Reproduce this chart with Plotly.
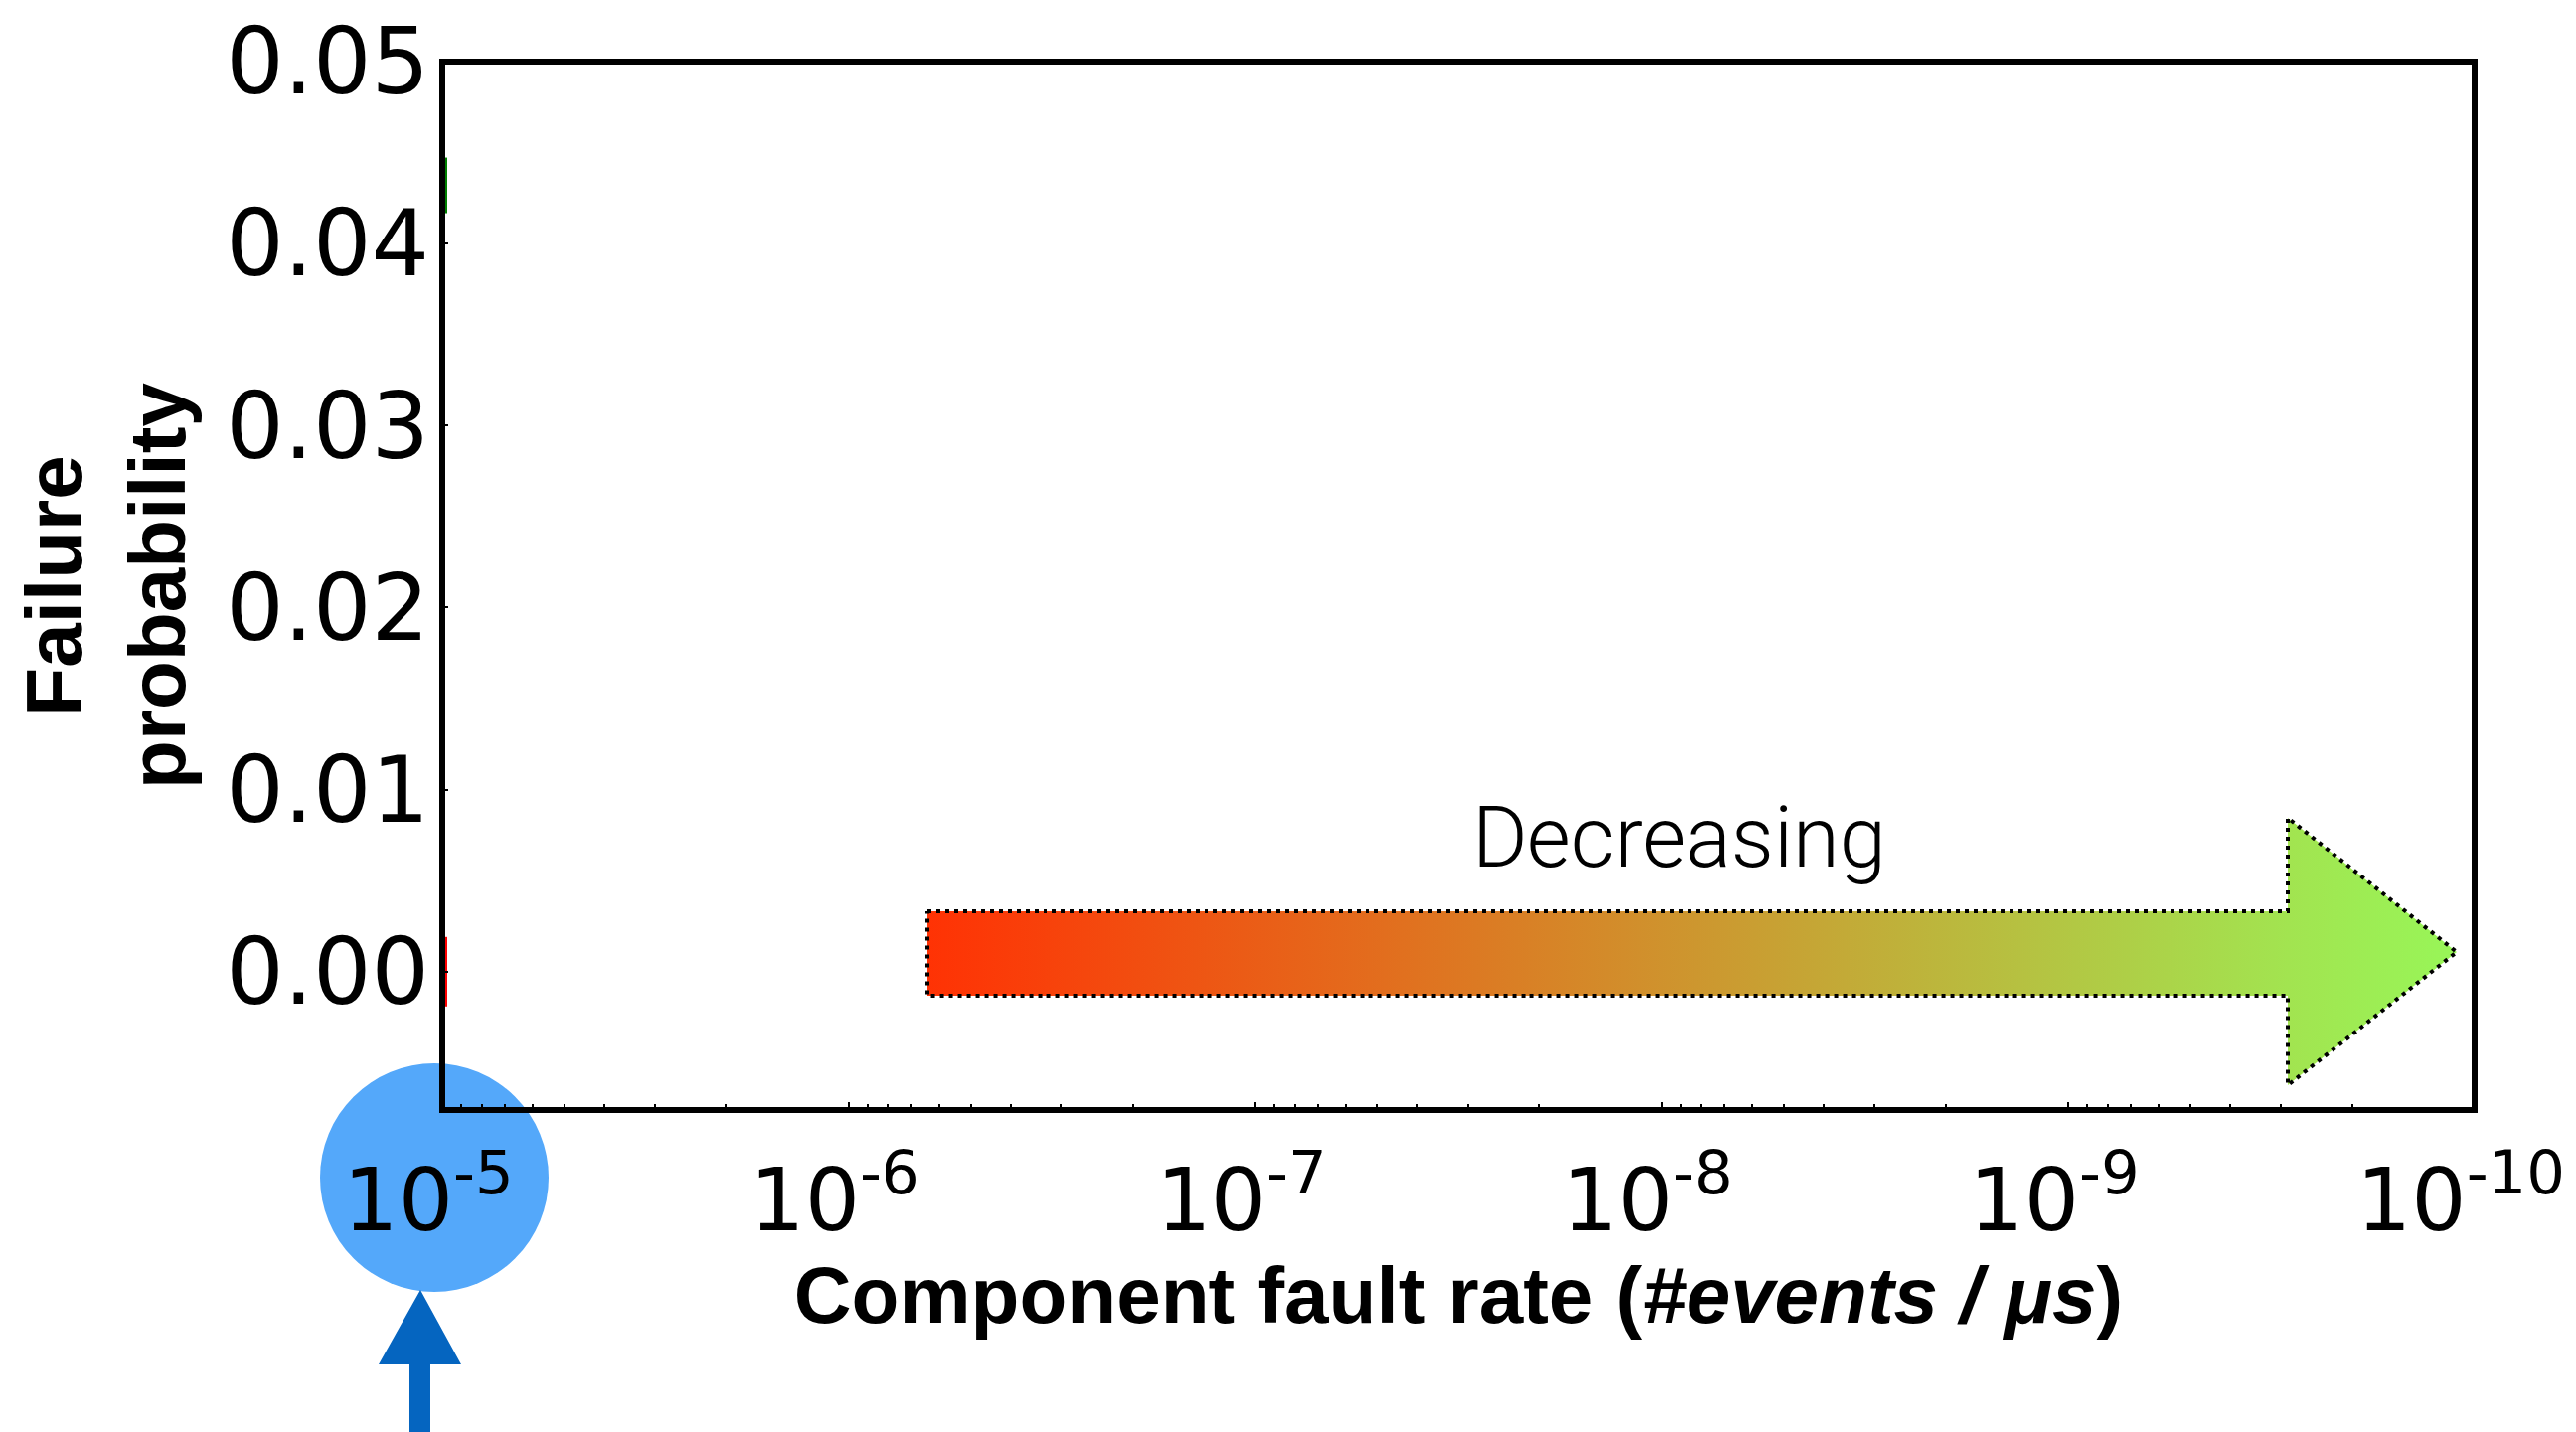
import plotly.graph_objects as go

# ---- data -------------------------------------------------------------
# failure probabilities recorded at the highest component fault rate
rate_series_a = [1e-5]
prob_series_a = [0.0432]
rate_series_b = [1e-5]
prob_series_b = [0.0]

# axis ticks
x_tick_vals = [1e-5, 1e-6, 1e-7, 1e-8, 1e-9, 1e-10]
x_tick_text = ["10<sup>-5</sup>", "10<sup>-6</sup>", "10<sup>-7</sup>",
               "10<sup>-8</sup>", "10<sup>-9</sup>", "10<sup>-10</sup>"]
y_tick_vals = [0.00, 0.01, 0.02, 0.03, 0.04, 0.05]
y_tick_text = ["0.00", "0.01", "0.02", "0.03", "0.04", "0.05"]
x_minor_vals = [m * 10.0 ** e for e in range(-10, -5) for m in range(2, 10)]

# ---- page geometry ----------------------------------------------------
W, H = 2592, 1441
ML, MR, MT, MB = 445, 102, 62, 324
PW, PH = W - ML - MR, H - MT - MB


def fx(px):
    """page pixel column -> paper fraction"""
    return (px - ML) / PW


def fy(py):
    """page pixel row -> paper fraction"""
    return (H - MB - py) / PH


def path(points):
    return "M " + " L ".join(f"{fx(x):.5f},{fy(y):.5f}" for x, y in points) + " Z"


fig = go.Figure()

# data markers (mostly clipped at the left edge of the axes)
fig.add_trace(go.Scatter(
    x=rate_series_a, y=prob_series_a, mode="markers",
    marker=dict(symbol="line-ns", size=40, line=dict(width=10, color="#008000")),
    showlegend=False, hoverinfo="skip"))
fig.add_trace(go.Scatter(
    x=rate_series_b, y=prob_series_b, mode="markers",
    marker=dict(symbol="line-ns", size=50, line=dict(width=10, color="#FF0000")),
    showlegend=False, hoverinfo="skip"))

# "Decreasing" gradient arrow, drawn in page-pixel units on an overlay axis pair
arrow_x = [933, 2302, 2302, 2472, 2302, 2302, 933, 933]
arrow_y = [917, 917, 823, 958, 1092, 1002, 1002, 917]
fig.add_trace(go.Scatter(
    x=arrow_x, y=arrow_y, xaxis="x2", yaxis="y2", mode="lines",
    fill="toself",
    fillgradient=dict(type="horizontal", colorscale=[
        [0.0, "rgb(255,50,4)"],
        [0.30, "rgb(226,110,30)"],
        [0.60, "rgb(195,170,55)"],
        [0.89, "rgb(162,228,80)"],
        [1.0, "rgb(152,246,88)"]]),
    line=dict(color="black", width=4, dash="4px,5px"),
    showlegend=False, hoverinfo="skip"))

fig.add_annotation(
    x=1689, y=843, xref="x2", yref="y2", text="Decreasing", showarrow=False,
    font=dict(family="Roboto, Liberation Sans, sans-serif", size=85,
              color="black", weight=300),
    xanchor="center", yanchor="middle")

# highlight marker around the 10^-5 tick and the pointer below it
fig.add_shape(type="circle", xref="paper", yref="paper",
              x0=fx(322), x1=fx(552), y0=fy(1300), y1=fy(1070),
              fillcolor="rgb(84,168,250)", line=dict(width=0), layer="below")
fig.add_shape(type="path", xref="paper", yref="paper",
              path=path([(412, 1470), (412, 1373), (381, 1373), (423, 1298),
                         (464, 1373), (433, 1373), (433, 1470)]),
              fillcolor="#0565C0", line=dict(width=0), layer="below")

# axes frame
fig.add_shape(type="rect", xref="paper", yref="paper", x0=0, x1=1, y0=0, y1=1,
              line=dict(color="black", width=6), fillcolor="rgba(0,0,0,0)",
              layer="above")

x_tick_font = dict(family="DejaVu Sans", size=87, color="black")
y_tick_font = dict(family="DejaVu Sans", size=92, color="black")
title_font = dict(family="Liberation Sans, Arial, sans-serif", size=80, color="black")

fig.update_layout(
    width=W, height=H,
    margin=dict(l=ML, r=MR, t=MT, b=MB, pad=0),
    paper_bgcolor="white", plot_bgcolor="white",
    showlegend=False,
    xaxis=dict(
        type="log", range=[-4.99999, -10.00001], autorange=False,
        tickmode="array", tickvals=x_tick_vals, ticktext=x_tick_text,
        ticks="inside", ticklen=8, tickwidth=2, tickcolor="black",
        tickfont=x_tick_font, ticklabelstandoff=33, ticklabelshift=14,
        ticklabeloverflow="allow",
        showline=False, showgrid=False, zeroline=False,
        minor=dict(tickmode="array", tickvals=x_minor_vals, ticks="inside",
                   ticklen=6, tickwidth=1.5, tickcolor="black", showgrid=False),
        title=dict(text="<b>Component fault rate (<i>#events / μs</i>)</b>",
                   font=title_font, standoff=2),
        automargin=False,
    ),
    yaxis=dict(
        range=[-0.0076, 0.05], autorange=False,
        tickmode="array", tickvals=y_tick_vals, ticktext=y_tick_text,
        ticks="inside", ticklen=6, tickwidth=2, tickcolor="black",
        tickfont=y_tick_font, ticklabelstandoff=12, ticklabeloverflow="allow",
        showline=False, showgrid=False, zeroline=False,
        title=dict(text="<b>Failure<br>probability</b>", font=title_font,
                   standoff=14),
        automargin=False,
    ),
    xaxis2=dict(overlaying="x", range=[ML, ML + PW], visible=False,
                autorange=False),
    yaxis2=dict(overlaying="y", range=[MT + PH, MT], visible=False,
                autorange=False),
)

fig.write_html("out.html")
